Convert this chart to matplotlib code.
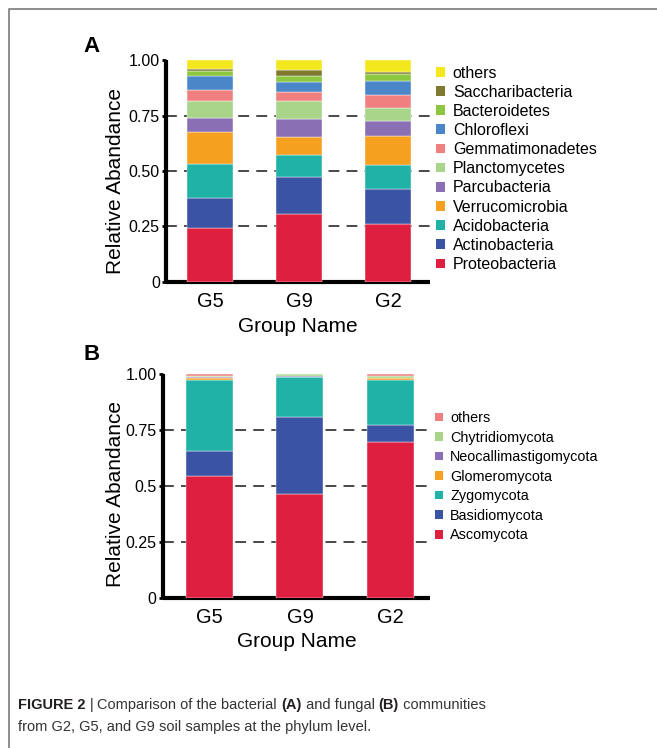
import matplotlib
matplotlib.use('Agg')
import matplotlib.pyplot as plt
from matplotlib.patches import Patch
from matplotlib.lines import Line2D

plt.rcParams['font.family'] = 'Liberation Sans'

groups = ['G5', 'G9', 'G2']

# panel A - bacterial phyla (bottom to top)
bact_names = ['Proteobacteria', 'Actinobacteria', 'Acidobacteria', 'Verrucomicrobia',
              'Parcubacteria', 'Planctomycetes', 'Gemmatimonadetes', 'Chloroflexi',
              'Bacteroidetes', 'Saccharibacteria', 'others']
bact_colors = ['#DE1F3F', '#3A53A4', '#20B2A6', '#F5A01F', '#8A6FB5', '#A8D58A',
               '#F08080', '#4A86C8', '#8DC63F', '#7F7A2F', '#F2E81D']
bact_g5 = [0.242, 0.136, 0.154, 0.144, 0.063, 0.075, 0.049, 0.066, 0.023, 0.007, 0.041]
bact_g9 = [0.305, 0.169, 0.100, 0.081, 0.078, 0.082, 0.041, 0.046, 0.026, 0.027, 0.045]
bact_g2 = [0.260, 0.159, 0.110, 0.130, 0.066, 0.059, 0.060, 0.061, 0.032, 0.010, 0.053]

# panel B - fungal phyla (bottom to top)
fung_names = ['Ascomycota', 'Basidiomycota', 'Zygomycota', 'Glomeromycota',
              'Neocallimastigomycota', 'Chytridiomycota', 'others']
fung_colors = ['#DE1F3F', '#3A53A4', '#20B2A6', '#F5A01F', '#8A6FB5', '#A8D58A', '#F08080']
fung_g5 = [0.543, 0.112, 0.316, 0.013, 0.003, 0.004, 0.009]
fung_g9 = [0.464, 0.343, 0.178, 0.003, 0.001, 0.010, 0.001]
fung_g2 = [0.696, 0.076, 0.199, 0.010, 0.002, 0.006, 0.011]

W, H = 657, 748
fig = plt.figure(figsize=(W / 100, H / 100), dpi=100)


def fx(px):
    return px / W


def fy(py):
    return 1 - py / H


def stacked_panel(rect, values, names, colors, xlim, yticklabels, ylab_pos, xlab_pos,
                  legend_anchor, leg_size, leg_spacing):
    ax = fig.add_axes(rect)
    xs = list(range(len(groups)))
    bottoms = [0.0] * len(groups)
    for i, name in enumerate(names):
        heights = [v[i] for v in values]
        ax.bar(xs, heights, width=0.52, bottom=bottoms, color=colors[i], zorder=3,
               edgecolor='white', linewidth=0.3)
        bottoms = [b + h for b, h in zip(bottoms, heights)]
    for yv in [0.25, 0.5, 0.75]:
        ax.axhline(yv, color='#3a3a3a', lw=1.3, ls=(0, (6, 4)), zorder=1)
    ax.set_xlim(*xlim)
    ax.set_ylim(0, 1)
    ax.set_yticks([0, 0.25, 0.5, 0.75, 1.0])
    ax.set_yticklabels(yticklabels, fontsize=11.5)
    ax.set_xticks(xs)
    ax.set_xticklabels(groups, fontsize=14.5)
    ax.tick_params(axis='x', length=0, pad=7)
    ax.tick_params(axis='y', length=3, width=2, pad=1.5)
    for s in ['top', 'right']:
        ax.spines[s].set_visible(False)
    for s in ['left', 'bottom']:
        ax.spines[s].set_linewidth(3)
        ax.spines[s].set_capstyle('butt')
    ax.set_ylabel('Relative Abandance', fontsize=15)
    ax.yaxis.set_label_coords(*ylab_pos)
    ax.set_xlabel('Group Name', fontsize=15)
    ax.xaxis.set_label_coords(*xlab_pos)
    ax.xaxis.label.set_va('top')
    handles = [Patch(facecolor=c, edgecolor='none') for c in colors]
    ax.legend(handles[::-1], names[::-1], loc='upper left', bbox_to_anchor=legend_anchor,
              bbox_transform=fig.transFigure, frameon=False, fontsize=leg_size,
              handlelength=0.55, handleheight=0.55, handletextpad=0.5,
              labelspacing=leg_spacing, borderpad=0, borderaxespad=0)
    return ax


bact_vals = [bact_g5, bact_g9, bact_g2]
fung_vals = [fung_g5, fung_g9, fung_g2]

stacked_panel([fx(166), fy(282), fx(430) - fx(166), fy(60) - fy(282)],
              bact_vals, bact_names, bact_colors, (-0.494, 2.472),
              ['0', '0.25', '0.50', '0.75', '1.00'],
              (-0.155, 0.455), (0.5, -0.158), (fx(436), fy(65.5)), 11.5, 0.26)

stacked_panel([fx(163), fy(598), fx(430) - fx(163), fy(374) - fy(598)],
              fung_vals, fung_names, fung_colors, (-0.517, 2.44),
              ['0', '0.25', '0.5', '0.75', '1.00'],
              (-0.142, 0.464), (0.5, -0.152), (fx(435), fy(411)), 10.4, 0.385)

fig.text(fx(92), fy(47), 'A', fontsize=16, fontweight='bold', ha='center', va='center')
fig.text(fx(92), fy(354), 'B', fontsize=16, fontweight='bold', ha='center', va='center')

# grey frame (top and left)
fig.add_artist(Line2D([fx(9), fx(9), 1.0], [0.0, fy(9), fy(9)], color='#7a7a7a', lw=1.2,
                      transform=fig.transFigure))

# caption, mixed bold and regular pieces
cap_size = 10.5
renderer = fig.canvas.get_renderer()


def caption_line(pieces, x, y):
    for txt, bold, col in pieces:
        t = fig.text(x, y, txt, fontsize=cap_size,
                     fontweight='bold' if bold else 'normal', color=col,
                     ha='left', va='baseline')
        bb = t.get_window_extent(renderer=renderer)
        x += bb.width / W


line1 = [('FIGURE 2 ', True, '#231f20'), ('| ', False, '#231f20'),
         ('Comparison of the bacterial ', False, '#333333'), ('(A)', True, '#231f20'),
         (' and fungal ', False, '#333333'), ('(B)', True, '#231f20'),
         (' communities', False, '#333333')]
line2 = [('from G2, G5, and G9 soil samples at the phylum level.', False, '#333333')]
caption_line(line1, fx(18), fy(709))
caption_line(line2, fx(18), fy(731))

fig.savefig('out.png', dpi=100)
